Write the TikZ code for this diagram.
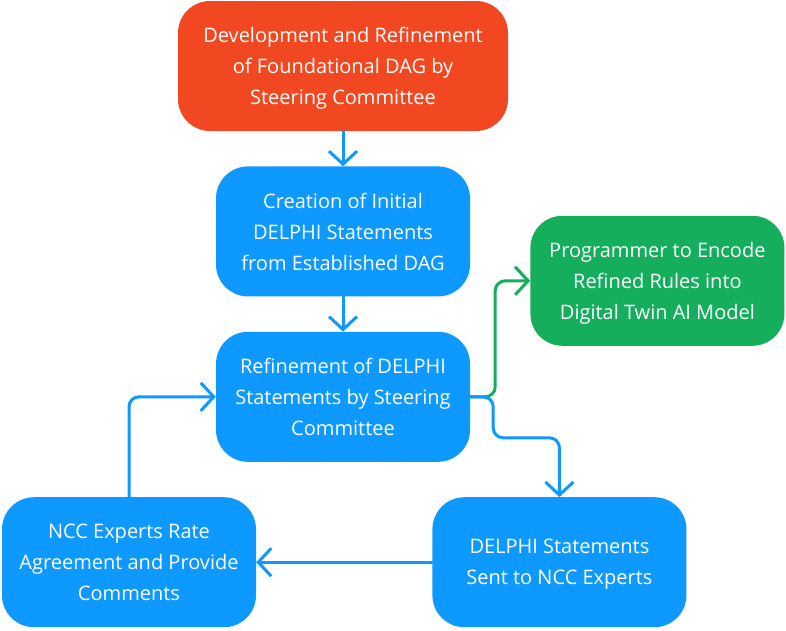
\documentclass[tikz,border=0pt]{standalone}
\usepackage{fontspec}
\setmainfont{Open Sans}
\usetikzlibrary{arrows.meta,positioning}
\definecolor{stepred}{HTML}{F24822}
\definecolor{stepblue}{HTML}{0D99FF}
\definecolor{stepgreen}{HTML}{14AE5C}

\begin{document}
\begin{tikzpicture}[x=1pt, y=1pt, font=\fontsize{20}{31}\selectfont,
    stagebox/.style={rectangle, fill=#1, text=white, align=center, rounded corners=32pt, minimum width=254pt, minimum height=130pt, inner sep=0pt, text depth=0pt},
    flow/.style={draw=#1, line width=3pt, line cap=round, line join=round, rounded corners=10pt, -{Straight Barb[length=13pt,width=28pt]}}]
        \useasboundingbox (0,0) rectangle (786,-630);

        \node[stagebox=stepred, minimum width=330pt] (dag) at (343,-66) {Development and Refinement\\of Foundational DAG by\\Steering Committee};
        \node[stagebox=stepblue, below=35pt of dag] (initial) {Creation of Initial\\DELPHI Statements\\from Established DAG};
        \node[stagebox=stepblue, below=35pt of initial] (refine) {Refinement of DELPHI\\Statements by Steering\\Committee};
        \node[stagebox=stepgreen, right=60pt of refine, yshift=116pt] (encode) {Programmer to Encode\\Refined Rules into\\Digital Twin AI Model};
        \node[stagebox=stepblue, below right=35pt and -38pt of refine] (sent) {DELPHI Statements\\Sent to NCC Experts};
        \node[stagebox=stepblue, left=176pt of sent] (rate) {NCC Experts Rate\\Agreement and Provide\\Comments};

        \draw[flow=stepblue] (dag) -- (initial);
        \draw[flow=stepblue] (initial) -- (refine);
        \draw[flow=stepgreen] (refine.east) -- ++(25,0) |- (encode.west);
        \draw[flow=stepblue] (refine.east) -- ++(23,0) -- ++(0,-41) -| (sent.north);
        \draw[flow=stepblue] (sent) -- (rate);
        \draw[flow=stepblue] (rate.north) |- (refine.west);
      \end{tikzpicture}
\end{document}
